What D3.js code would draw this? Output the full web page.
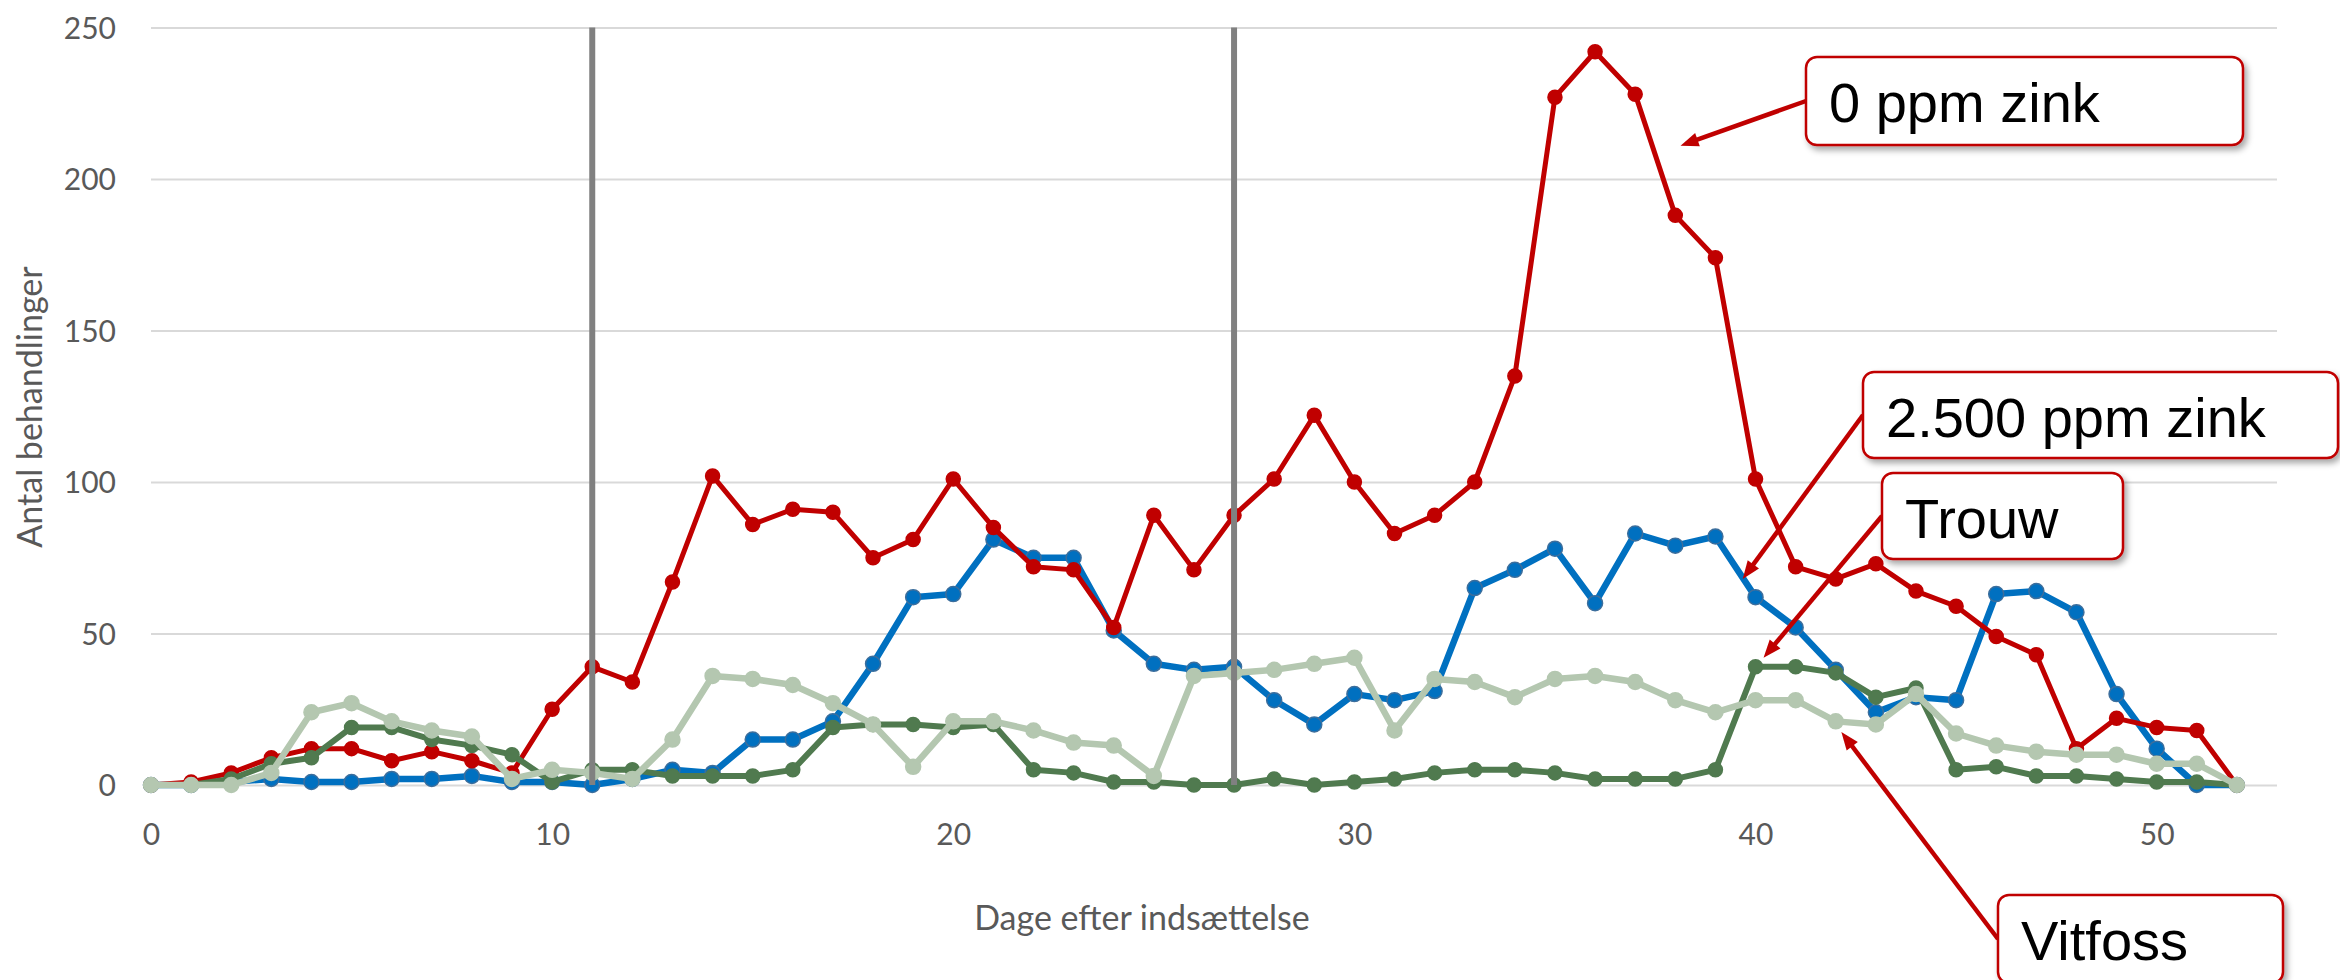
<!DOCTYPE html>
<html><head><meta charset="utf-8">
<script src="https://cdn.jsdelivr.net/npm/d3@7"></script>
<style>body{margin:0;background:#fff}svg{display:block}</style>
</head><body><svg id="chart" width="2340" height="980"></svg>
<script>
// ---- data ----
const days = [0,1,2,3,4,5,6,7,8,9,10,11,12,13,14,15,16,17,18,19,20,21,22,23,24,25,26,27,28,29,30,31,32,33,34,35,36,37,38,39,40,41,42,43,44,45,46,47,48,49,50,51,52];
const zink0    = [0,1,4,9,12,12,8,11,8,4,25,39,34,67,102,86,91,90,75,81,101,85,72,71,52,89,71,89,101,122,100,83,89,100,135,227,242,228,188,174,101,72,68,73,64,59,49,43,12,22,19,18,0];
const zink2500 = [0,0,1,2,1,1,2,2,3,1,1,0,2,5,4,15,15,21,40,62,63,81,75,75,51,40,38,39,28,20,30,28,31,65,71,78,60,83,79,82,62,52,38,24,29,28,63,64,57,30,12,0,0];
const trouw    = [0,0,2,7,9,19,19,15,13,10,1,5,5,3,3,3,5,19,20,20,19,20,5,4,1,1,0,0,2,0,1,2,4,5,5,4,2,2,2,5,39,39,37,29,32,5,6,3,3,2,1,1,0];
const vitfoss  = [0,0,0,4,24,27,21,18,16,2,5,4,2,15,36,35,33,27,20,6,21,21,18,14,13,3,36,37,38,40,42,18,35,34,29,35,36,34,28,24,28,28,21,20,30,17,13,11,10,10,7,7,0];
const xTicks = [0,10,20,30,40,50];
const yTicks = [0,50,100,150,200,250];
const markerDays = [11,27];
const calloutLabels = ["0 ppm zink","2.500 ppm zink","Trouw","Vitfoss"];
const calloutTargetDay = [38.13,39.68,40.2,42.14];
const calloutTargetValue = [211,68,42,17.5];
const xTitle = "Dage efter indsættelse";
const yTitle = "Antal behandlinger";

// ---- layout / style ----
const svg = d3.select("#chart");
const x = d3.scaleLinear().domain([0,53]).range([151,2277]);
const y = d3.scaleLinear().domain([0,250]).range([785,27.5]);
const axisFont = "Lato, 'Open Sans', sans-serif";
const textGray = "#595959";

const defs = svg.append("defs");
const f = defs.append("filter").attr("id","shadow").attr("x","-10%").attr("y","-20%").attr("width","130%").attr("height","160%");
f.append("feDropShadow").attr("dx",3).attr("dy",4).attr("stdDeviation",3).attr("flood-color","#000").attr("flood-opacity",0.35);

// gridlines + y labels
const yAxis = svg.append("g").attr("transform","translate(151,0)")
  .call(d3.axisLeft(y).tickValues(yTicks).tickSize(-(2277-151)).tickPadding(35));
yAxis.select(".domain").remove();
yAxis.selectAll(".tick line").attr("stroke","#D9D9D9").attr("stroke-width",2);
yAxis.selectAll(".tick text").attr("fill",textGray).style("font-family",axisFont).style("font-size","30px").attr("dy","0.36em");

// x labels
const xAxis = svg.append("g").attr("transform","translate(0,785)")
  .call(d3.axisBottom(x).tickValues(xTicks).tickSize(0).tickPadding(0));
xAxis.select(".domain").remove();
xAxis.selectAll(".tick text").attr("fill",textGray).style("font-family",axisFont).style("font-size","30px").attr("y",60).attr("dy",0);

// axis titles
svg.append("text").attr("x",1142).attr("y",930).attr("text-anchor","middle")
  .attr("fill",textGray).style("font-family",axisFont).style("font-size","34px").text(xTitle);
svg.append("text").attr("transform","translate(42,407) rotate(-90)").attr("text-anchor","middle")
  .attr("fill",textGray).style("font-family",axisFont).style("font-size","34px").text(yTitle);

// series
const series = [
  {vals:zink2500, color:"#0070C0", stroke:"#3C6E9C", w:6.5, r:7.5},
  {vals:zink0,    color:"#C00000", stroke:"#C00000", w:5, r:7},
  {vals:trouw,    color:"#507A4F", stroke:"#507A4F", w:6, r:7},
  {vals:vitfoss,  color:"#B4C7B0", stroke:"#B4C7B0", w:6.5, r:7.5}
];
const line = d3.line().x(d=>x(d.day)).y(d=>y(d.v));
series.forEach(s=>{
  const pts = days.map((d,i)=>({day:d, v:s.vals[i]}));
  const g = svg.append("g");
  g.append("path").attr("d",line(pts)).attr("fill","none").attr("stroke",s.color)
    .attr("stroke-width",s.w).attr("stroke-linejoin","round").attr("stroke-linecap","round");
  g.selectAll("circle").data(pts).join("circle").attr("cx",d=>x(d.day)).attr("cy",d=>y(d.v))
    .attr("r",s.r).attr("fill",s.color).attr("stroke",s.stroke).attr("stroke-width",1.5);
});

// vertical marker lines
svg.selectAll(".vline").data(markerDays).join("line").attr("class","vline")
  .attr("x1",d=>x(d)).attr("x2",d=>x(d)).attr("y1",y(0)).attr("y2",y(250))
  .attr("stroke","#808080").attr("stroke-width",6);

// callouts
const calloutBoxes = [
  {x:1806,y:57,w:437,h:88},
  {x:1863,y:372,w:475,h:86},
  {x:1882,y:473,w:241,h:86},
  {x:1998,y:895,w:285,h:88}
];
calloutLabels.forEach((lab,i)=>{
  const b = calloutBoxes[i];
  const sx = b.x, sy = b.y + b.h/2;
  const tx = x(calloutTargetDay[i]), ty = y(calloutTargetValue[i]);
  const len = Math.hypot(tx-sx, ty-sy);
  const ex = tx - (tx-sx)/len*14, ey = ty - (ty-sy)/len*14;
  svg.append("line").attr("x1",sx).attr("y1",sy).attr("x2",ex).attr("y2",ey)
    .attr("stroke","#C00000").attr("stroke-width",4.5);
  const ang = Math.atan2(ty-sy, tx-sx)*180/Math.PI;
  svg.append("path").attr("d","M0,0 L-18,-7 L-18,7 Z").attr("fill","#C00000")
    .attr("transform",`translate(${tx},${ty}) rotate(${ang})`);
});
calloutLabels.forEach((lab,i)=>{
  const b = calloutBoxes[i];
  svg.append("rect").attr("x",b.x).attr("y",b.y).attr("width",b.w).attr("height",b.h).attr("rx",11)
    .attr("fill","#fff").attr("stroke","#C00000").attr("stroke-width",2.5).attr("filter","url(#shadow)");
  svg.append("text").attr("x",b.x+23).attr("y",b.y+65).attr("fill","#000")
    .style("font-family","'Liberation Sans', Arial, sans-serif").style("font-size","56px").text(lab);
});
</script></body></html>
